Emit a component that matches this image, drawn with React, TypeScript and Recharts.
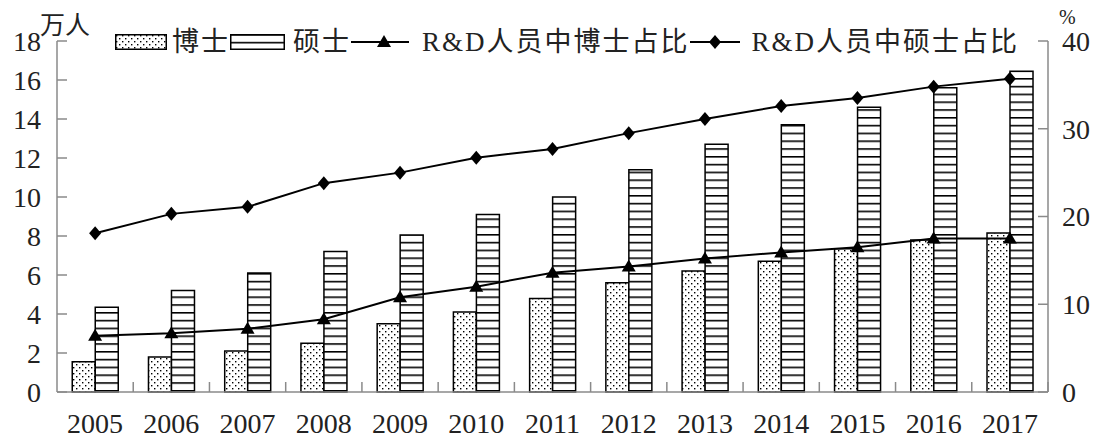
import React from "react";
import {
  ComposedChart,
  Bar,
  Line,
  XAxis,
  YAxis,
} from "recharts";

const years = ["2005", "2006", "2007", "2008", "2009", "2010", "2011", "2012", "2013", "2014", "2015", "2016", "2017"];
const phd = [1.55, 1.8, 2.1, 2.5, 3.5, 4.1, 4.8, 5.6, 6.2, 6.7, 7.35, 7.8, 8.15];
const master = [4.35, 5.2, 6.1, 7.2, 8.05, 9.1, 10.0, 11.4, 12.7, 13.7, 14.6, 15.6, 16.45];
const phdShare = [6.4, 6.7, 7.2, 8.3, 10.8, 12.0, 13.6, 14.3, 15.2, 15.9, 16.5, 17.5, 17.5];
const masterShare = [18.1, 20.3, 21.1, 23.8, 25.0, 26.7, 27.7, 29.5, 31.1, 32.6, 33.5, 34.8, 35.7];

const leftTicks = [0, 2, 4, 6, 8, 10, 12, 14, 16, 18];
const rightTicks = [0, 10, 20, 30, 40];
const seriesNames = ["博士", "硕士", "R&D人员中博士占比", "R&D人员中硕士占比"];
const leftUnit = "万人";
const rightUnit = "%";

const data = years.map((y, i) => ({
  year: y,
  phd: phd[i],
  master: master[i],
  phdShare: phdShare[i],
  masterShare: masterShare[i],
}));

const W = 1101;
const H = 444;
const AXIS = "#8a8a8a";
const TEXT = "#222";
const NUM_FONT = "'Liberation Serif', 'Noto Sans CJK SC', serif";
const CJK_FONT = "'Liberation Serif', 'Noto Sans CJK SC', sans-serif";
const FS = 28;

const Tri = ({ cx, cy }: any) => (
  <path d={`M${cx},${cy - 7} L${cx + 7},${cy + 5} L${cx - 7},${cy + 5} Z`} fill="#000" />
);
const Dia = ({ cx, cy }: any) => (
  <path d={`M${cx},${cy - 7} L${cx + 6},${cy} L${cx},${cy + 7} L${cx - 6},${cy} Z`} fill="#000" />
);

// y tick: label outside, short tick line pointing into the plot
const LeftTick = (props: any) => {
  const { x, y, payload } = props;
  const ax = x + 16;
  return (
    <g>
      <line x1={ax} x2={ax + 10} y1={y} y2={y} stroke={AXIS} strokeWidth={1.5} />
      <text x={x} y={y} dy="0.35em" textAnchor="end" fontSize={FS} fontFamily={NUM_FONT} fill={TEXT}>
        {payload.value}
      </text>
    </g>
  );
};

const RightTick = (props: any) => {
  const { x, y, payload } = props;
  const ax = x - 14;
  return (
    <g>
      <line x1={ax} x2={ax - 10} y1={y} y2={y} stroke={AXIS} strokeWidth={1.5} />
      <text x={x} y={y} dy="0.35em" textAnchor="start" fontSize={FS} fontFamily={NUM_FONT} fill={TEXT}>
        {payload.value}
      </text>
    </g>
  );
};

const BottomTick = (props: any) => {
  const { x, y, payload, width } = props;
  const bw = width / years.length;
  const ay = y - 31;
  return (
    <g>
      <line x1={x + bw / 2} x2={x + bw / 2} y1={ay} y2={ay - 10} stroke={AXIS} strokeWidth={1.5} />
      <text x={x} y={y} dy="0.35em" textAnchor="middle" fontSize={FS} fontFamily={NUM_FONT} fill={TEXT}>
        {payload.value}
      </text>
    </g>
  );
};

const Patterns = ({ suffix }: { suffix: string }) => (
  <defs>
    <pattern id={`dots${suffix}`} patternUnits="userSpaceOnUse" width="6" height="6">
      <rect width="6" height="6" fill="#fff" />
      <rect x="1" y="1" width="1.4" height="1.4" fill="#000" />
      <rect x="4" y="4" width="1.4" height="1.4" fill="#000" />
    </pattern>
    <pattern id={`stripes${suffix}`} patternUnits="userSpaceOnUse" width="8" height="7.8">
      <rect width="8" height="7.8" fill="#fff" />
      <rect x="0" y="0" width="8" height="1.6" fill="#000" />
    </pattern>
  </defs>
);

const LegendLine = ({ w, marker, mx }: { w: number; marker: "tri" | "dia"; mx: number }) => (
  <svg width={w} height={20} style={{ display: "block" }}>
    <line x1={0} x2={w} y1={10} y2={10} stroke="#000" strokeWidth={2} />
    {marker === "tri" ? <Tri cx={mx} cy={10} /> : <Dia cx={mx} cy={10} />}
  </svg>
);

const LegendBox = ({ w, fill }: { w: number; fill: string }) => (
  <svg width={w} height={16} style={{ display: "block" }}>
    <Patterns suffix="L" />
    <rect x={0.75} y={0.75} width={w - 1.5} height={14.5} fill={fill} stroke="#000" strokeWidth={1.5} />
  </svg>
);

const legendText: React.CSSProperties = {
  fontSize: 27,
  fontFamily: CJK_FONT,
  color: TEXT,
  whiteSpace: "nowrap",
  lineHeight: "30px",
  letterSpacing: 2,
};

export default function App() {
  return (
    <div style={{ position: "relative", width: W, height: H, background: "#fff" }}>
      <style>{`body{margin:0}`}</style>
      <ComposedChart
        width={W}
        height={H}
        data={data}
        margin={{ top: 41, right: 0, bottom: 0, left: 0 }}
        barCategoryGap="20%"
        barGap={0}
      >
        <Patterns suffix="" />
        <XAxis
          dataKey="year"
          height={52}
          stroke={AXIS}
          strokeWidth={1.5}
          tickLine={false}
          tickSize={0}
          tickMargin={31}
          tick={<BottomTick />}
          interval={0}
        />
        <YAxis
          yAxisId="left"
          orientation="left"
          width={57}
          domain={[0, 18]}
          ticks={leftTicks}
          stroke={AXIS}
          strokeWidth={1.5}
          tickLine={false}
          tickSize={0}
          tickMargin={16}
          tick={<LeftTick />}
          interval={0}
        />
        <YAxis
          yAxisId="right"
          orientation="right"
          width={53}
          domain={[0, 40]}
          ticks={rightTicks}
          stroke={AXIS}
          strokeWidth={1.5}
          tickLine={false}
          tickSize={0}
          tickMargin={14}
          tick={<RightTick />}
          interval={0}
        />
        <Bar yAxisId="left" dataKey="phd" fill="url(#dots)" stroke="#000" strokeWidth={1.5} isAnimationActive={false} />
        <Bar yAxisId="left" dataKey="master" fill="url(#stripes)" stroke="#000" strokeWidth={1.5} isAnimationActive={false} />
        <Line
          yAxisId="right"
          dataKey="phdShare"
          stroke="#000"
          strokeWidth={2}
          dot={(p: any) => <Tri key={`t${p.index}`} cx={p.cx} cy={p.cy} />}
          activeDot={false}
          isAnimationActive={false}
        />
        <Line
          yAxisId="right"
          dataKey="masterShare"
          stroke="#000"
          strokeWidth={2}
          dot={(p: any) => <Dia key={`d${p.index}`} cx={p.cx} cy={p.cy} />}
          activeDot={false}
          isAnimationActive={false}
        />
      </ComposedChart>

      <div style={{ position: "absolute", left: 40, top: 5, fontSize: 25, fontFamily: CJK_FONT, color: TEXT }}>
        {leftUnit}
      </div>
      <div style={{ position: "absolute", left: 1059, top: 6, fontSize: 20, fontFamily: NUM_FONT, color: TEXT }}>
        {rightUnit}
      </div>

      <div style={{ position: "absolute", left: 115, top: 27, display: "flex", alignItems: "center" }}>
        <LegendBox w={52} fill="url(#dotsL)" />
        <span style={{ ...legendText, marginLeft: 5 }}>{seriesNames[0]}</span>
        <LegendBox w={55} fill="url(#stripesL)" />
        <span style={{ ...legendText, marginLeft: 8 }}>{seriesNames[1]}</span>
        <LegendLine w={58} marker="tri" mx={33} />
        <span style={{ ...legendText, marginLeft: 13 }}>{seriesNames[2]}</span>
        <LegendLine w={50} marker="dia" mx={25} />
        <span style={{ ...legendText, marginLeft: 12 }}>{seriesNames[3]}</span>
      </div>
    </div>
  );
}
